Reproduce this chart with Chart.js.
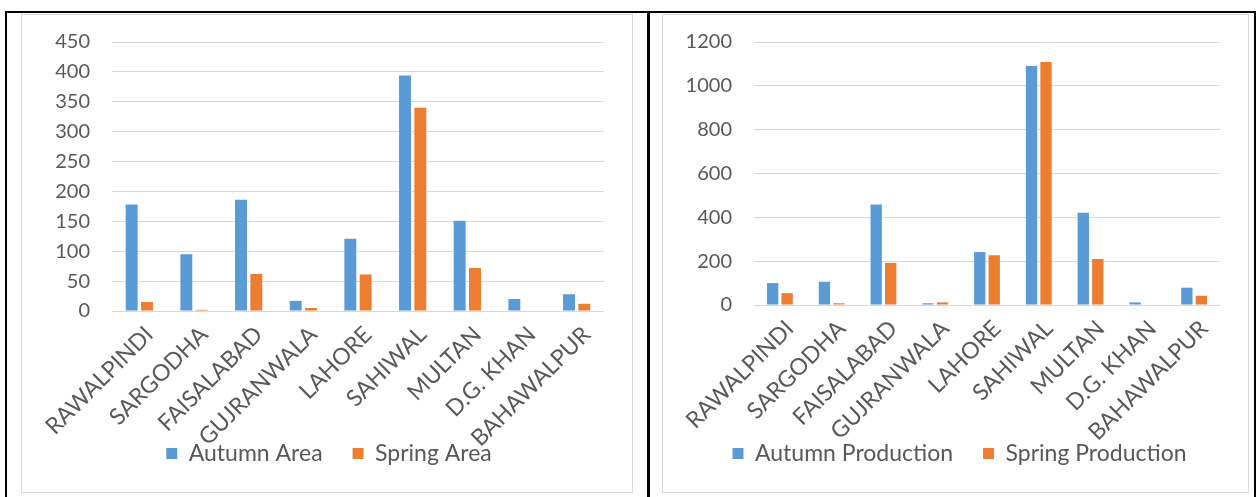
<!DOCTYPE html>
<html>
<head>
<meta charset="utf-8">
<script src="https://cdn.jsdelivr.net/npm/chart.js@4.4.0/dist/chart.umd.min.js"></script>
<style>
body{margin:0;background:#fff;width:1256px;height:497px;position:relative;overflow:hidden;}
.line{position:absolute;background:#000;}
.frame{position:absolute;border:1px solid #d9d9d9;box-sizing:border-box;background:#fff;}
.frame canvas{position:absolute;left:0;top:0;}
</style>
</head>
<body>
<div class="line" style="left:5px;top:11px;width:1251px;height:2px"></div>
<div class="line" style="left:5px;top:11px;width:2px;height:486px"></div>
<div class="line" style="left:647px;top:11px;width:3px;height:486px"></div>
<div class="line" style="left:1254px;top:11px;width:2px;height:486px"></div>

<div class="frame" style="left:21px;top:14px;width:612px;height:479px"><canvas id="areaChart" width="610" height="477"></canvas></div>
<div class="frame" style="left:662px;top:14px;width:587px;height:479px"><canvas id="prodChart" width="585" height="477"></canvas></div>

<script>
// districts
const distritos = ["RAWALPINDI","SARGODHA","FAISALABAD","GUJRANWALA","LAHORE","SAHIWAL","MULTAN","D.G. KHAN","BAHAWALPUR"];

// area
const areaOtono = [178, 95, 186, 17, 121, 394, 151, 20, 28];
const areaPrimavera = [15, 2, 62, 5, 61, 340, 72, 0, 12];

// production
const prodOtono = [100, 106, 458, 8, 242, 1091, 421, 12, 79];
const prodPrimavera = [54, 8, 192, 12, 227, 1109, 210, 0, 42];

const azul = "#5b9bd5";
const naranja = "#ed7d31";
const gris = "#595959";

Chart.defaults.font.family = "Lato, 'Open Sans', sans-serif";
Chart.defaults.color = gris;

// x labels are clipped to the axis box: let them run down over the legend area,
// and move the legend a bit to the right like in excel
const ajustes = {
id: "ajustes",
afterLayout(chart, args, opts){
chart.scales.x.bottom = chart.height;
chart.legend.left += opts.mover;
chart.legend.right += opts.mover;
}
};

function crearGrafico(id, serie1, serie2, nombre1, nombre2, maximo, paso, anchoY, altoX, mover){

return new Chart(document.getElementById(id), {
type: "bar",
data: {
labels: distritos,
datasets: [
{label: nombre1, data: serie1, backgroundColor: azul, categoryPercentage: 0.56, barPercentage: 0.78},
{label: nombre2, data: serie2, backgroundColor: naranja, categoryPercentage: 0.56, barPercentage: 0.78}
]
},
options: {
responsive: false,
animation: false,
layout: {padding: {top: 27, right: 28, bottom: 17, left: 0}},
plugins: {
tooltip: {enabled: false},
ajustes: {mover: mover},
legend: {
position: "bottom",
labels: {boxWidth: 11, boxHeight: 11, padding: 30, font: {size: 23}, color: gris}
}
},
scales: {
x: {
grid: {display: false},
border: {display: false},
ticks: {minRotation: 45, maxRotation: 45, autoSkip: false, padding: 2, labelOffset: 10, font: {size: 23}, color: gris},
afterFit: function(s){ s.height = altoX; }
},
y: {
min: 0,
max: maximo,
grid: {color: "#d9d9d9", drawTicks: false},
border: {display: false},
ticks: {stepSize: paso, padding: 22, font: {size: 20}, color: gris, callback: function(v){ return String(v); }},
afterFit: function(s){ s.width = anchoY; s.paddingTop = 0; s.paddingBottom = 0; }
}
}
},
plugins: [ajustes]
});

}

crearGrafico("areaChart", areaOtono, areaPrimavera, "Autumn Area", "Spring Area", 450, 50, 90, 101, 16);
crearGrafico("prodChart", prodOtono, prodPrimavera, "Autumn Production", "Spring Production", 1200, 200, 91, 107, 18);
</script>
</body>
</html>
